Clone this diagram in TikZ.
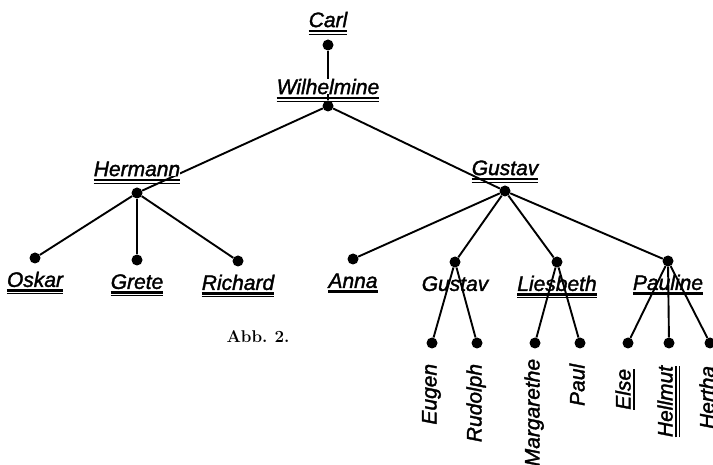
\documentclass[tikz,border=0pt]{standalone}
\usepackage{fontspec}
\newfontfamily\hand{Liberation Sans}[ItalicFeatures={FakeBold=1.6}]
\usetikzlibrary{positioning,calc}

\begin{document}
\begin{tikzpicture}[x=1pt, y=-1pt,
    dot/.style={circle, fill, inner sep=0pt, minimum size=11pt},
    link/.style={line width=1.9pt},
    pname/.style={font=\hand\itshape\fontsize{21}{24}\selectfont, inner sep=0pt, text height=15pt, text depth=0pt},
    gname/.style={pname, rotate=90, anchor=east},
    ul/.style={append after command={
        ($(\tikzlastnode.south west)!3.5pt!-90:(\tikzlastnode.south east)$) edge[line width=2.2pt]
        ($(\tikzlastnode.south east)!3.5pt!90:(\tikzlastnode.south west)$)}},
    dul/.style={ul, append after command={
        ($(\tikzlastnode.south west)!6.8pt!-90:(\tikzlastnode.south east)$) edge[line width=1.1pt]
        ($(\tikzlastnode.south east)!6.8pt!90:(\tikzlastnode.south west)$)}}
]
\clip (0,0) rectangle (713,465);

% Dots
\node[dot] (carl-dot) at (328,45) {};
\node[dot] (wil-dot) at (328,106) {};
\node[dot] (her-dot) at (137,193) {};
\node[dot] (gus-dot) at (505,191) {};

\node[dot] (osk-dot) at (35,258) {};
\node[dot] (gre-dot) at (137,260) {};
\node[dot] (ric-dot) at (238,261) {};
\node[dot] (anna-dot) at (353,259) {};
\node[dot] (gust-dot) at (455,262) {};
\node[dot] (lies-dot) at (557,262) {};
\node[dot] (paul-dot) at (668,261) {};

\foreach \n/\x in {eug/432, rud/477, marg/535, pl/580, else/628, hell/669, hert/710}
    \node[dot] (\n-dot) at (\x,343) {};

% Lines
\draw[link] (carl-dot) -- (wil-dot);
\draw[link] (wil-dot) -- (her-dot);
\draw[link] (wil-dot) -- (gus-dot);
\foreach \c in {osk, gre, ric}
    \draw[link] (her-dot) -- (\c-dot);
\foreach \c in {anna, gust, lies, paul}
    \draw[link] (gus-dot) -- (\c-dot);
\foreach \c in {eug, rud}
    \draw[link] (gust-dot) -- (\c-dot);
\foreach \c in {marg, pl}
    \draw[link] (lies-dot) -- (\c-dot);
\foreach \c in {else, hell, hert}
    \draw[link] (paul-dot) -- (\c-dot);

% Names
\node[pname, dul, above=12pt of carl-dot] (carl) {Carl};
\node[pname, dul, fill=white, above=6pt of wil-dot] (wil) {Wilhelmine};
\node[pname, dul, fill=white, above=11pt of her-dot] (her) {Hermann};
\node[pname, dul, above=10pt of gus-dot] (gus) {Gustav};

\node[pname, dul, below=8pt of osk-dot] (osk) {Oskar};
\node[pname, dul, below=8pt of gre-dot] (gre) {Grete};
\node[pname, dul, below=8pt of ric-dot] (ric) {Richard};
\node[pname, ul, below=8pt of anna-dot] (anna) {Anna};
\node[pname, below=8pt of gust-dot] (gust) {Gustav};
\node[pname, dul, below=8pt of lies-dot] (lies) {Liesbeth};
\node[pname, ul, below=8pt of paul-dot] (paul) {Pauline};

\node[gname] (eug) at ([xshift=-3pt, yshift=-15pt]eug-dot.south) {Eugen};
\node[gname] (rud) at ([xshift=-3pt, yshift=-15pt]rud-dot.south) {Rudolph};
\node[gname] (marg) at ([xshift=-3pt, yshift=-10pt]marg-dot.south) {Margarethe};
\node[gname] (pl) at ([xshift=-3pt, yshift=-15pt]pl-dot.south) {Paul};
\node[gname, ul] (else) at ([xshift=-5pt, yshift=-20pt]else-dot.south) {Else};
\node[gname, dul] (hell) at ([xshift=-4pt, yshift=-17pt]hell-dot.south) {Hellmut};
\node[gname] (hert) at ([xshift=-3pt, yshift=-17pt]hert-dot.south) {Hertha};

% Caption
\node[font=\bfseries\fontsize{17}{19}\selectfont] (abb) at (258,337) {Abb.\hspace{7pt}2.};
\end{tikzpicture}
\end{document}
